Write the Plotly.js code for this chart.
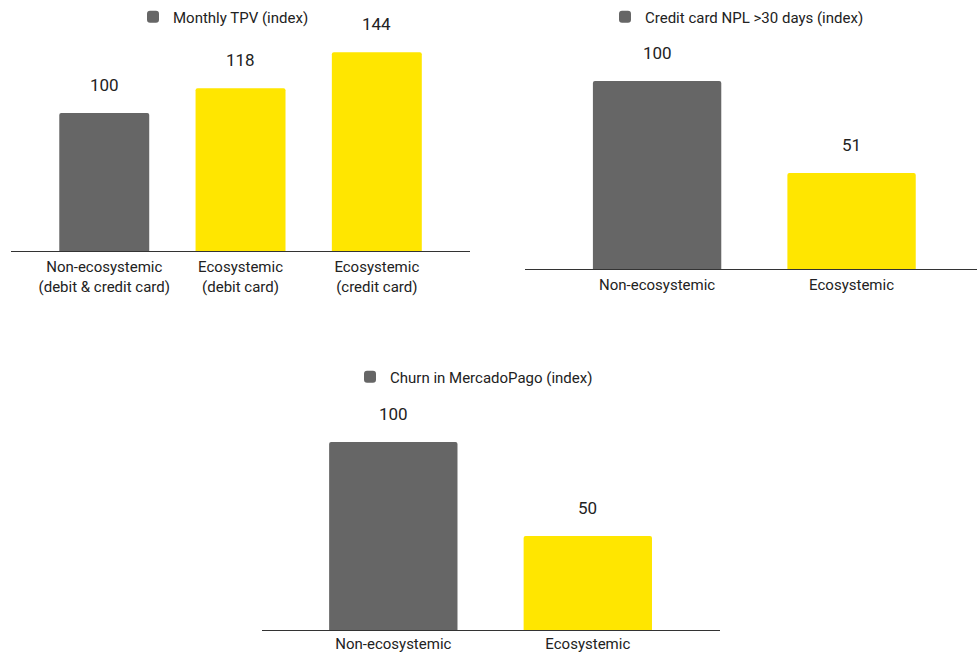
<!DOCTYPE html>
<html>
<head>
<meta charset="utf-8">
<script src="https://cdn.plot.ly/plotly-3.0.1.min.js"></script>
<style>
  html, body { margin: 0; padding: 0; background: #ffffff; }
  #chart { width: 977px; height: 653px; }
</style>
</head>
<body>
<div id="chart"></div>
<script>
// Monthly TPV (index)
const tpvCategories = ['Non-ecosystemic<br>(debit & credit card)', 'Ecosystemic<br>(debit card)', 'Ecosystemic<br>(credit card)'];
const tpvValues = [100, 118, 144];
const tpvName = 'Monthly TPV (index)';

// Credit card NPL >30 days (index)
const nplCategories = ['Non-ecosystemic', 'Ecosystemic'];
const nplValues = [100, 51];
const nplName = 'Credit card NPL >30 days (index)';

// Churn in MercadoPago (index)
const churnCategories = ['Non-ecosystemic', 'Ecosystemic'];
const churnValues = [100, 50];
const churnName = 'Churn in MercadoPago (index)';

const GRAY = '#666666';
const YELLOW = '#FFE600';
const FONT = 'Roboto, Arial, sans-serif';
const TEXT = '#222222';

// first bar of each panel is the non-ecosystemic baseline (gray), the rest yellow
function barColors(n) {
  const c = [GRAY];
  for (let i = 1; i < n; i++) c.push(YELLOW);
  return c;
}

function barTrace(cats, vals, name, xa, ya, legendId) {
  return {
    type: 'bar',
    x: cats,
    y: vals,
    name: name,
    xaxis: xa,
    yaxis: ya,
    legend: legendId,
    showlegend: true,
    marker: { color: barColors(vals.length), cornerradius: 2, line: { width: 0 } },
    hoverinfo: 'x+y'
  };
}

// value labels floating above each bar
function valueLabels(cats, vals, xa, ya) {
  return cats.map((c, i) => ({
    x: c, y: vals[i], xref: xa, yref: ya,
    text: String(vals[i]),
    showarrow: false,
    yanchor: 'middle',
    yshift: 28,
    font: { family: FONT, size: 17, color: TEXT }
  }));
}

function xAxis(domain, range, anchor, standoff) {
  return {
    domain: domain,
    range: range,
    anchor: anchor,
    type: 'category',
    showline: true,
    linecolor: '#333333',
    linewidth: 1,
    showgrid: false,
    zeroline: false,
    ticks: '',
    ticklabelstandoff: standoff,
    tickfont: { family: FONT, size: 15, color: TEXT },
    fixedrange: true
  };
}

function yAxis(domain, range, anchor) {
  return {
    domain: domain,
    range: range,
    anchor: anchor,
    visible: false,
    showgrid: false,
    zeroline: false,
    fixedrange: true
  };
}

function legendBox(x, y) {
  return {
    x: x, y: y,
    xanchor: 'left', yanchor: 'middle',
    orientation: 'h',
    bgcolor: 'rgba(0,0,0,0)',
    borderwidth: 0,
    font: { family: FONT, size: 15, color: TEXT },
    itemclick: false,
    itemdoubleclick: false
  };
}

const data = [
  barTrace(tpvCategories, tpvValues, tpvName, 'x', 'y', 'legend'),
  barTrace(nplCategories, nplValues, nplName, 'x2', 'y2', 'legend2'),
  barTrace(churnCategories, churnValues, churnName, 'x3', 'y3', 'legend3')
];

const layout = {
  width: 977,
  height: 653,
  margin: { l: 0, r: 0, t: 0, b: 0 },
  paper_bgcolor: '#ffffff',
  plot_bgcolor: '#ffffff',
  bargap: 0.34,
  font: { family: FONT, color: TEXT },
  xaxis: xAxis([0.0113, 0.4811], [-0.684, 2.684], 'y', 2),
  yaxis: yAxis([0.6156, 1], [0, 181.9], 'x'),
  xaxis2: xAxis([0.5374, 1], [-0.679, 1.645], 'y2', 2),
  yaxis2: yAxis([0.5881, 1], [0, 143.1], 'x2'),
  xaxis3: xAxis([0.2682, 0.7370], [-0.675, 1.68], 'y3', 0),
  yaxis3: yAxis([0.0352, 0.4487], [0, 143.6], 'x3'),
  legend: legendBox(133 / 977, 1 - 17 / 653),
  legend2: legendBox(605 / 977, 1 - 17 / 653),
  legend3: legendBox(350 / 977, 1 - 377 / 653),
  annotations: [].concat(
    valueLabels(tpvCategories, tpvValues, 'x', 'y'),
    valueLabels(nplCategories, nplValues, 'x2', 'y2'),
    valueLabels(churnCategories, churnValues, 'x3', 'y3')
  )
};

Plotly.newPlot('chart', data, layout, { displayModeBar: false, staticPlot: true });
</script>
</body>
</html>
